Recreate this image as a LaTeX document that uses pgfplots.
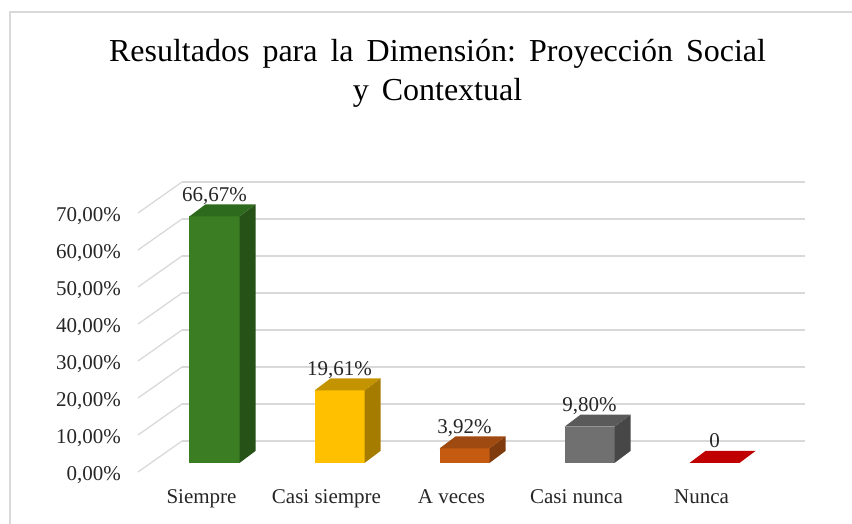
\documentclass[border=0pt]{standalone}
\usepackage{fontspec}
\setmainfont{Liberation Serif}
\usepackage{pgfplots}
\pgfplotsset{compat=1.18}

\definecolor{gfront}{HTML}{3B7D23}
\definecolor{gtop}{HTML}{2E6A1D}
\definecolor{gside}{HTML}{265218}
\definecolor{yfront}{HTML}{FFC000}
\definecolor{ytop}{HTML}{C49300}
\definecolor{yside}{HTML}{A67C00}
\definecolor{ofront}{HTML}{C55A11}
\definecolor{otop}{HTML}{9E4A10}
\definecolor{oside}{HTML}{7F3A0D}
\definecolor{kfront}{HTML}{707070}
\definecolor{ktop}{HTML}{5A5A5A}
\definecolor{kside}{HTML}{474747}
\definecolor{rfront}{HTML}{C00000}
\definecolor{gridc}{HTML}{D9D9D9}
\definecolor{txt}{HTML}{262626}

\newcommand\labfont{\fontsize{21pt}{25pt}\selectfont}
\newcommand\titlefont{\fontsize{32pt}{39pt}\selectfont}
\newcommand\ws{\hspace{13pt}}

% top face of a box, drawn at the bar's top centre
\pgfdeclareplotmark{cubetop}{%
  \pgfpathmoveto{\pgfqpoint{-25pt}{0pt}}%
  \pgfpathlineto{\pgfqpoint{25pt}{0pt}}%
  \pgfpathlineto{\pgfqpoint{41pt}{12pt}}%
  \pgfpathlineto{\pgfqpoint{-9pt}{12pt}}%
  \pgfpathclose\pgfusepath{fill}}
% side face of a box, height taken from the bar's value
\pgfdeclareplotmark{cubeside}{%
  \pgfmathsetlengthmacro\hh{3.7*\vv}%
  \pgfpathmoveto{\pgfqpoint{25pt}{0pt}}%
  \pgfpathlineto{\pgfqpoint{41pt}{12pt}}%
  \pgfpathlineto{\pgfpoint{41pt}{12pt-\hh}}%
  \pgfpathlineto{\pgfpoint{25pt}{-\hh}}%
  \pgfpathclose\pgfusepath{fill}}

\pgfplotsset{
  front/.style={ybar, bar width=50pt, bar shift=0pt, fill=#1, draw=none,
    nodes near coords, point meta=explicit symbolic,
    every node near coord/.append style={anchor=base, yshift=15pt, inner sep=0pt,
      font=\labfont, text=txt}},
  cubet/.style={scatter, only marks, mark=cubetop,
    scatter/@pre marker code/.code={}, scatter/@post marker code/.code={},
    mark options={fill=#1, draw=none}},
  cubes/.style={scatter, only marks, mark=cubeside,
    visualization depends on={y \as \vv},
    scatter/@pre marker code/.code={}, scatter/@post marker code/.code={},
    mark options={fill=#1, draw=none}},
}

\begin{document}
\begin{tikzpicture}
\path[use as bounding box] (0,0) rectangle (852pt,524pt);
\draw[gridc, line width=1.5pt] (10pt,0pt) -- (10pt,512pt) -- (852pt,512pt);
\begin{axis}[
  at={(151pt,61pt)}, anchor=south west,
  scale only axis, width=623pt, height=259pt,
  xmin=-0.508, xmax=4.476, ymin=0, ymax=70,
  clip=false,
  axis line style={draw=none},
  major tick length=0pt,
  ytick={0,10,...,70},
  yticklabels={{0,00\%},{10,00\%},{20,00\%},{30,00\%},{40,00\%},{50,00\%},{60,00\%},{70,00\%}},
  ymajorgrids,
  major grid style={draw=gridc, line width=1.3pt, xshift=31pt, yshift=22pt},
  xtick={0,1,2,3,4},
  xticklabels={Siempre,Casi siempre,A veces,Casi nunca,Nunca},
  ticklabel style={font=\labfont, inner sep=0pt, text=txt},
  yticklabel style={anchor=east, xshift=-30pt, yshift=-12pt},
  xticklabel style={anchor=base, xshift=-13pt, yshift=-41pt},
  title={Resultados\ws para\ws la\ws Dimensión:\ws Proyección\ws Social\\y\ws Contextual},
  title style={font=\titlefont, align=center, anchor=north, inner sep=0pt, text=black,
    at={(axis description cs:0.4599,1.612)}},
]
\pgfplotsinvokeforeach{0,10,20,30,40,50,60,70}{
  \draw[gridc, line width=1.3pt] ([xshift=-13pt,yshift=-9pt]axis cs:-0.508,#1) -- ([xshift=31pt,yshift=22pt]axis cs:-0.508,#1);
}
% Siempre
\addplot[front=gfront] coordinates {(0,66.67) [66,67\%]};
\addplot[cubes=gside] coordinates {(0,66.67)};
\addplot[cubet=gtop] coordinates {(0,66.67)};
% Casi siempre
\addplot[front=yfront] coordinates {(1,19.61) [19,61\%]};
\addplot[cubes=yside] coordinates {(1,19.61)};
\addplot[cubet=ytop] coordinates {(1,19.61)};
% A veces
\addplot[front=ofront] coordinates {(2,3.92) [3,92\%]};
\addplot[cubes=oside] coordinates {(2,3.92)};
\addplot[cubet=otop] coordinates {(2,3.92)};
% Casi nunca
\addplot[front=kfront] coordinates {(3,9.80) [9,80\%]};
\addplot[cubes=kside] coordinates {(3,9.80)};
\addplot[cubet=ktop] coordinates {(3,9.80)};
% Nunca
\addplot[front=rfront] coordinates {(4,0) [0]};
\addplot[cubet=rfront] coordinates {(4,0)};
\end{axis}
\end{tikzpicture}
\end{document}
